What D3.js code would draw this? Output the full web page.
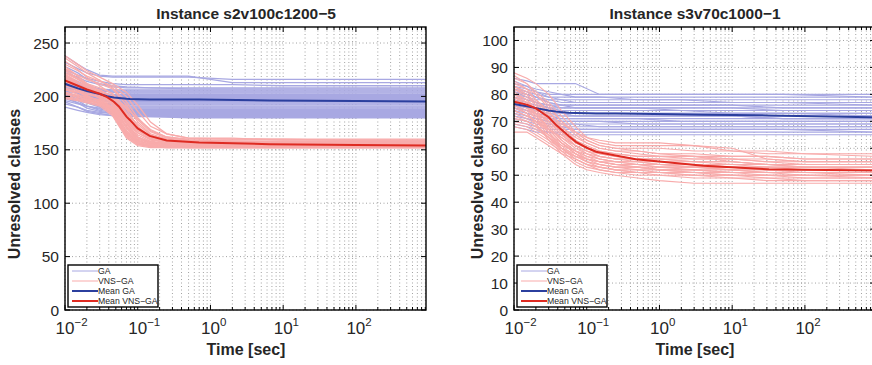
<!DOCTYPE html>
<html>
<head>
<meta charset="utf-8">
<script src="https://cdn.jsdelivr.net/npm/d3@7"></script>
<style>
  body { margin: 0; background: #fff; }
  svg { display: block; font-family: "Liberation Sans", Arial, sans-serif; }
</style>
</head>
<body>
<div id="chart"></div>
<script>
// ---- data ----
const panelTitles = ["Instance s2v100c1200\u22125", "Instance s3v70c1000\u22121"];
const xTickExps = [-2, -1, 0, 1, 2];
const leftYTicks = [0, 50, 100, 150, 200, 250];
const rightYTicks = [0, 10, 20, 30, 40, 50, 60, 70, 80, 90, 100];
const legendLabels = ["GA", "VNS\u2212GA", "Mean GA", "Mean VNS\u2212GA"];

// left panel, single GA runs (values at leftGaTimes)
const leftGaTimes = [0.01, 0.015, 0.02, 0.03, 0.045, 0.07, 0.15, 0.5, 2, 10, 50, 920];
const leftGaRuns = [
  [232,226,222,219,218,218,218,218,216,216,216,216],
  [238,230,225,220,219,219,219,219,213,213,213,213],
  [225,220,217,214,212,211,211,211,211,210,210,210],
  [222,218,214,211,209,208,208,208,208,208,208,208],
  [228,222,216,212,210,209,208,207,207,207,207,207],
  [215,211,209,207,206,206,206,206,206,206,206,206],
  [219,214,210,207,205,205,205,205,205,205,205,205],
  [212,209,207,205,204,204,204,204,204,204,204,204],
  [224,217,211,206,204,203,203,203,203,203,203,203],
  [208,206,204,203,202,202,202,202,202,202,202,202],
  [218,212,207,203,201,201,201,201,201,201,201,201],
  [210,206,203,201,200,200,200,200,200,200,200,200],
  [214,209,205,201,199,199,199,199,199,199,199,199],
  [205,203,201,199,198,198,198,198,198,198,198,198],
  [220,212,206,200,198,197,197,197,197,197,197,197],
  [207,203,200,198,197,196,196,196,196,196,196,196],
  [211,205,200,197,195,195,195,195,195,195,195,195],
  [203,200,198,196,195,194,194,194,194,194,194,194],
  [216,208,202,197,194,193,193,193,193,193,193,193],
  [201,198,196,194,193,192,192,192,192,192,192,192],
  [209,203,198,194,192,191,191,191,191,191,191,191],
  [199,196,194,192,191,190,190,190,190,190,190,190],
  [213,205,199,193,190,189,189,189,189,189,189,189],
  [204,199,195,191,189,188,188,188,188,188,188,188],
  [196,193,191,189,188,187,187,187,187,187,187,187],
  [206,199,194,190,187,186,186,186,186,186,186,186],
  [198,194,191,188,186,185,185,185,185,185,185,185],
  [202,196,191,187,185,184,184,184,184,184,184,184],
  [193,190,187,185,184,183,183,183,183,183,183,183],
  [200,194,189,186,184,183,182,182,182,182,182,182],
  [195,190,186,184,182,182,181,181,181,181,181,181],
  [190,187,185,183,182,181,181,180,180,180,180,180]
];

// left panel, single VNS-GA runs (values at leftVnsTimes)
const leftVnsTimes = [0.01, 0.015, 0.02, 0.03, 0.045, 0.07, 0.1, 0.15, 0.25, 0.5, 2, 10, 50, 920];
const leftVnsRuns = [
  [236,228,222,215,208,195,180,168,162,160,160,160,160,160],
  [230,224,219,214,210,200,186,172,165,161,161,159,159,159],
  [226,220,216,212,207,192,176,165,160,158,158,158,158,158],
  [222,216,212,208,203,188,172,162,158,157,157,157,157,157],
  [233,225,218,210,202,185,170,161,158,157,157,156,156,156],
  [218,213,210,206,200,183,168,160,157,156,156,156,156,156],
  [228,219,212,205,198,180,166,159,157,156,156,155,155,155],
  [214,210,207,203,197,178,164,158,156,155,155,155,155,155],
  [224,216,210,204,196,176,162,157,156,155,155,155,155,155],
  [210,207,205,202,195,175,162,157,155,155,155,155,155,155],
  [220,213,208,202,194,174,161,156,155,154,154,154,154,154],
  [216,210,206,201,193,172,160,156,155,154,154,154,154,154],
  [206,204,202,199,192,171,159,155,154,154,154,154,154,154],
  [212,207,203,199,190,170,158,155,154,154,154,154,154,154],
  [219,211,205,198,189,168,158,155,154,153,153,153,153,153],
  [204,201,199,197,188,167,157,154,153,153,153,153,153,153],
  [208,204,200,196,187,166,157,154,153,153,153,153,153,153],
  [202,199,197,194,186,165,156,154,153,153,153,153,153,153],
  [215,207,201,195,185,164,156,153,153,152,152,152,152,152],
  [200,198,196,193,184,163,155,153,152,152,152,152,152,152],
  [211,205,199,193,183,162,155,153,152,152,152,152,152,152],
  [198,196,194,191,182,161,154,152,152,152,152,152,152,152],
  [213,206,200,195,190,180,170,163,160,158,157,156,156,156],
  [207,202,198,194,189,178,168,162,159,157,156,155,155,155],
  [225,217,211,206,200,190,178,167,161,159,158,158,157,157],
  [203,200,197,193,188,176,166,160,157,155,155,154,154,154],
  [217,211,206,200,195,184,174,164,159,157,156,156,155,155],
  [221,214,209,204,199,189,179,169,162,159,158,157,157,156],
  [199,197,195,192,186,172,162,157,155,154,153,153,153,153],
  [238,230,224,218,212,204,192,176,165,161,160,160,159,159]
];

// left panel means
const leftMeanTimes = [0.01, 0.015, 0.02, 0.03, 0.038, 0.047, 0.055, 0.07, 0.078, 0.1, 0.146, 0.25, 0.7, 6.5, 100, 920];
const leftMeanGa = [211.8, 207.5, 205, 202.2, 200.2, 199, 198.5, 197.8, 197.6, 197.4, 197.2, 197.1, 197.0, 196.2, 195.6, 195.3];
const leftMeanVns = [215, 210, 206.5, 202.5, 199.4, 195, 190.6, 181, 178, 170, 163, 158.7, 156.8, 155.3, 154.5, 154];

// right panel, single GA runs (values at rightGaTimes)
const rightGaTimes = [0.01, 0.015, 0.02, 0.03, 0.045, 0.07, 0.15, 0.5, 2, 10, 50, 920];
const rightGaRuns = [
  [86,85,84,84,84,84,80,80,80,80,80,80],
  [84,83,82,81,80,80,80,80,80,80,80,79],
  [83,82,81,80,80,79,79,79,79,79,79,79],
  [82,81,80,79,79,79,79,78,78,78,78,78],
  [81,80,79,78,78,78,78,78,78,77,77,77],
  [80,79,78,78,77,77,77,77,77,77,77,77],
  [82,80,79,77,76,76,76,76,76,76,76,76],
  [79,78,77,76,76,76,76,76,76,76,75,75],
  [80,78,77,76,75,75,75,75,75,75,75,75],
  [78,77,76,75,75,75,75,75,74,74,74,74],
  [79,77,76,75,74,74,74,74,74,74,74,74],
  [77,76,75,74,74,74,74,74,74,73,73,73],
  [78,76,75,74,73,73,73,73,73,73,73,73],
  [76,75,74,73,73,73,73,73,73,73,73,72],
  [77,75,74,73,72,72,72,72,72,72,72,72],
  [75,74,73,72,72,72,72,72,72,72,71,71],
  [76,74,73,72,71,71,71,71,71,71,71,71],
  [74,73,72,71,71,71,71,71,70,70,70,70],
  [75,73,72,71,70,70,70,70,70,70,70,70],
  [73,72,71,70,70,70,70,69,69,69,69,69],
  [74,72,71,70,69,69,69,69,69,69,69,69],
  [72,71,70,69,69,69,68,68,68,68,68,68],
  [73,71,70,69,68,68,68,68,68,68,68,68],
  [71,70,69,68,68,67,67,67,67,67,67,67],
  [70,69,68,67,67,67,67,67,67,67,67,66],
  [69,68,67,66,66,66,66,66,66,66,66,66],
  [68,67,66,66,65,65,65,65,65,65,65,65],
  [85,83,81,79,78,77,77,77,77,77,77,76],
  [83,81,79,77,76,75,75,75,75,75,74,74],
  [81,79,77,75,73,72,72,72,72,72,71,71]
];

// right panel, single VNS-GA runs (values at rightVnsTimes)
const rightVnsTimes = [0.01, 0.015, 0.02, 0.03, 0.045, 0.07, 0.1, 0.15, 0.25, 0.5, 1, 3, 10, 30, 100, 920];
const rightVnsRuns = [
  [88,86,84,80,74,68,64,62,61,61,61,61,59,58,58,58],
  [86,84,81,77,72,66,63,61,60,60,60,59,59,59,58,57],
  [84,82,80,76,70,65,62,60,59,59,58,58,57,57,56,56],
  [83,81,78,74,68,63,61,59,58,57,57,57,56,56,55,55],
  [82,80,77,72,67,62,60,58,57,56,56,55,55,54,54,54],
  [80,78,75,71,66,61,59,57,56,56,55,55,54,54,53,53],
  [81,78,74,69,64,60,58,56,55,55,54,54,53,53,53,52],
  [79,77,74,70,65,61,58,56,55,54,54,53,53,52,52,52],
  [78,76,73,68,63,59,57,55,54,54,53,53,52,52,51,51],
  [77,75,72,68,63,59,56,55,54,53,53,52,52,51,51,51],
  [80,77,73,67,62,58,56,54,53,53,52,52,51,51,50,50],
  [76,74,71,67,62,58,55,54,53,52,52,51,51,50,50,50],
  [75,73,70,66,61,57,55,53,52,52,51,51,50,50,49,49],
  [78,75,71,66,60,56,54,53,52,51,51,50,50,49,49,49],
  [74,72,70,65,60,56,54,52,51,51,50,50,49,49,48,48],
  [73,71,69,64,59,55,53,52,51,50,50,49,49,48,48,48],
  [76,73,69,63,58,54,52,51,50,49,48,47,47,47,47,47],
  [72,70,68,64,60,57,56,55,55,54,54,53,52,51,51,50],
  [85,82,78,73,69,66,64,63,62,62,62,61,60,56,55,55],
  [71,70,68,65,62,59,58,57,56,56,56,55,55,54,53,53],
  [70,69,67,64,61,59,57,56,55,55,54,54,54,53,53,53],
  [69,68,66,63,60,58,56,55,54,54,53,53,53,52,52,52],
  [87,84,80,75,70,66,63,61,60,59,58,57,55,54,54,54],
  [82,79,76,72,68,64,62,60,59,58,57,56,56,55,54,54],
  [68,67,65,62,59,57,55,54,53,53,52,52,51,51,51,51],
  [79,76,72,67,62,58,56,55,54,53,52,51,50,50,50,49],
  [74,72,70,67,64,61,59,57,56,55,55,54,53,53,52,52],
  [83,80,76,70,65,61,59,58,57,56,56,56,56,55,55,55],
  [66,66,64,61,58,56,54,53,52,51,51,50,50,50,50,50],
  [77,75,73,70,66,62,60,59,58,57,57,57,57,57,56,56]
];

// right panel means
const rightMeanTimes = [0.01, 0.015, 0.02, 0.03, 0.038, 0.057, 0.071, 0.1, 0.134, 0.25, 0.47, 1.5, 4, 32, 200, 920];
const rightMeanGa = [76.4, 75.6, 74.9, 74.0, 73.6, 73.2, 73.1, 73.0, 72.9, 72.9, 72.8, 72.6, 72.4, 72.2, 71.8, 71.5];
const rightMeanVns = [77.3, 76.2, 74.8, 71.5, 68.6, 64.5, 62.4, 60.2, 58.7, 57.3, 55.9, 54.6, 53.5, 52.2, 51.9, 51.7];

// ---- drawing ----
const width = 872, height = 365;
const colors = { ga: "#a8a8e2", vns: "#f8abab", meanGa: "#2b3f9e", meanVns: "#de2b22" };
const textColor = "#262626";

const svg = d3.select("#chart").append("svg")
    .attr("width", width)
    .attr("height", height)
    .attr("viewBox", [0, 0, width, height]);

const drawPanel = (cfg) => {
    const x = d3.scaleLog().domain([0.01, 920]).range([cfg.left, cfg.left + 361]);
    const y = d3.scaleLinear().domain([0, cfg.yMax]).range([310, 27]);
    const [x0, x1] = x.range();

    const g = svg.append("g");
    const clipId = "clip" + cfg.idx;
    g.append("clipPath").attr("id", clipId)
      .append("rect").attr("x", x0).attr("y", 27).attr("width", 361).attr("height", 283);

    // dotted grid (under the data)
    const minorTicks = x.ticks().filter(t => t >= 0.01 && t <= 920);
    g.append("g").selectAll("line").data(minorTicks).join("line")
        .attr("x1", d => x(d)).attr("x2", d => x(d))
        .attr("y1", 27).attr("y2", 310)
        .attr("stroke", "#8c8c8c").attr("stroke-width", 0.8)
        .attr("stroke-dasharray", "1,2.5");
    g.append("g").selectAll("line").data(cfg.yTicks).join("line")
        .attr("x1", x0).attr("x2", x1)
        .attr("y1", d => y(d)).attr("y2", d => y(d))
        .attr("stroke", "#8c8c8c").attr("stroke-width", 0.8)
        .attr("stroke-dasharray", "1,2.5");

    const line = d3.line().x(d => x(d[0])).y(d => y(d[1]));
    const plot = g.append("g").attr("clip-path", `url(#${clipId})`);
    const runPts = (times, vals) => vals.map((v, i) => [times[i], v]);

    plot.append("g").selectAll("path").data(cfg.gaRuns).join("path")
        .attr("d", r => line(runPts(cfg.gaTimes, r)))
        .attr("fill", "none").attr("stroke", colors.ga).attr("stroke-width", cfg.runWidth);
    plot.append("g").selectAll("path").data(cfg.vnsRuns).join("path")
        .attr("d", r => line(runPts(cfg.vnsTimes, r)))
        .attr("fill", "none").attr("stroke", colors.vns).attr("stroke-width", cfg.runWidth);

    plot.append("path").attr("d", line(runPts(cfg.meanTimes, cfg.meanGa)))
        .attr("fill", "none").attr("stroke", colors.meanGa).attr("stroke-width", 2);
    plot.append("path").attr("d", line(runPts(cfg.meanTimes, cfg.meanVns)))
        .attr("fill", "none").attr("stroke", colors.meanVns).attr("stroke-width", 2);

    // ticks inside the box, both sides
    const ticks = g.append("g").attr("stroke", "#000").attr("stroke-width", 1);
    minorTicks.forEach(t => {
        const major = Math.abs(Math.log10(t) - Math.round(Math.log10(t))) < 1e-9;
        const len = major ? 5 : 3;
        ticks.append("line").attr("x1", x(t)).attr("x2", x(t)).attr("y1", 310).attr("y2", 310 - len);
        ticks.append("line").attr("x1", x(t)).attr("x2", x(t)).attr("y1", 27).attr("y2", 27 + len);
    });
    cfg.yTicks.forEach(t => {
        ticks.append("line").attr("x1", x0).attr("x2", x0 + 5).attr("y1", y(t)).attr("y2", y(t));
        ticks.append("line").attr("x1", x1).attr("x2", x1 - 5).attr("y1", y(t)).attr("y2", y(t));
    });

    // box
    g.append("rect").attr("x", x0).attr("y", 27).attr("width", 361).attr("height", 283)
        .attr("fill", "none").attr("stroke", "#000").attr("stroke-width", 1.4);

    // y tick labels
    g.append("g").selectAll("text").data(cfg.yTicks).join("text")
        .attr("x", x0 - 6).attr("y", d => y(d))
        .attr("dy", "0.36em").attr("text-anchor", "end")
        .attr("font-size", 15.5).attr("fill", textColor)
        .text(d => d);

    // x tick labels, 10^n ("10" centred on the tick, exponent hanging right)
    const xl = g.append("g").selectAll("text").data(xTickExps).join("text")
        .attr("x", d => x(Math.pow(10, d)) - 9.5).attr("y", 334)
        .attr("font-size", 17).attr("fill", textColor);
    xl.append("tspan").text("10");
    xl.append("tspan").attr("dy", -8).attr("font-size", 11.5)
        .text(d => d < 0 ? "\u2212" + (-d) : String(d));

    // title and axis labels
    g.append("text").attr("x", x0 + 181).attr("y", 19)
        .attr("text-anchor", "middle").attr("font-size", 15.5).attr("font-weight", "bold")
        .attr("fill", textColor).text(cfg.title);
    g.append("text").attr("x", x0 + 181).attr("y", 355)
        .attr("text-anchor", "middle").attr("font-size", 16).attr("font-weight", "bold")
        .attr("fill", textColor).text("Time [sec]");
    g.append("text")
        .attr("transform", `translate(${cfg.yLabelX},184) rotate(-90)`)
        .attr("text-anchor", "middle").attr("font-size", 16).attr("font-weight", "bold")
        .attr("fill", textColor).text("Unresolved clauses");

    // legend
    const lx = x0 + 3, ly = 265;
    const lg = g.append("g");
    lg.append("rect").attr("x", lx).attr("y", ly).attr("width", 90).attr("height", 42)
        .attr("fill", "#fff").attr("stroke", "#000").attr("stroke-width", 1.4);
    const legendStyle = [[colors.ga, 1], [colors.vns, 1], [colors.meanGa, 2], [colors.meanVns, 2]];
    legendLabels.forEach((lab, i) => {
        const yy = ly + 6 + i * 10;
        lg.append("line").attr("x1", lx + 4).attr("x2", lx + 30).attr("y1", yy).attr("y2", yy)
            .attr("stroke", legendStyle[i][0]).attr("stroke-width", legendStyle[i][1]);
        lg.append("text").attr("x", lx + 30).attr("y", yy).attr("dy", "0.36em")
            .attr("font-size", 8.7).attr("fill", textColor).text(lab);
    });
};

drawPanel({ idx: 0, left: 65, yMax: 265, yTicks: leftYTicks, title: panelTitles[0],
    yLabelX: 19.5, runWidth: 1.3,
    gaTimes: leftGaTimes, gaRuns: leftGaRuns, vnsTimes: leftVnsTimes, vnsRuns: leftVnsRuns,
    meanTimes: leftMeanTimes, meanGa: leftMeanGa, meanVns: leftMeanVns });
drawPanel({ idx: 1, left: 514, yMax: 105, yTicks: rightYTicks, title: panelTitles[1],
    yLabelX: 482.5, runWidth: 1.1,
    gaTimes: rightGaTimes, gaRuns: rightGaRuns, vnsTimes: rightVnsTimes, vnsRuns: rightVnsRuns,
    meanTimes: rightMeanTimes, meanGa: rightMeanGa, meanVns: rightMeanVns });
</script>
</body>
</html>
